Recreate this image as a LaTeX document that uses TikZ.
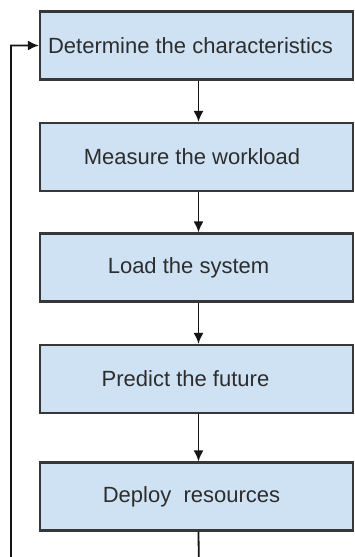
\documentclass[tikz,border=0pt]{standalone}
\usepackage{fontspec}
\setmainfont{Liberation Sans}
\usetikzlibrary{arrows.meta,calc}
\definecolor{boxfill}{RGB}{207,226,243}
\definecolor{boxline}{RGB}{55,55,55}
\definecolor{arrowcol}{RGB}{20,20,20}
\definecolor{textcol}{RGB}{45,45,45}
\tikzset{
  stepbox/.style={draw=boxline, line width=2.2pt, fill=boxfill,
    minimum width=313pt, minimum height=68pt, inner sep=0pt},
  steptext/.style={font=\fontsize{22}{26}\selectfont, text=textcol, inner sep=0pt},
  flow/.style={draw=arrowcol, line width=1.8pt, -{Latex[length=11pt,width=10pt]}}
}
\begin{document}
\begin{tikzpicture}[x=1pt,y=-1pt]
\useasboundingbox (0,0) rectangle (355,557);
\clip (0,0) rectangle (355,557);
\fill[white] (0,0) rectangle (355,557);
\node[stepbox, label={[steptext, xshift=-6pt]center:Determine the characteristics}] (b1) at (196.5,45.5) {};
\node[stepbox, label={[steptext, xshift=-4.5pt]center:Measure the workload}] (b2) at (196.5,157) {};
\node[stepbox, label={[steptext, xshift=-8pt]center:Load the system}] (b3) at (196.5,267.5) {};
\node[stepbox, label={[steptext, xshift=-11pt]center:Predict the future}] (b4) at (196.5,379) {};
\node[stepbox, label={[steptext, xshift=-5pt]center:Deploy\ \ resources}] (b5) at (196.5,496.5) {};
\coordinate (c1) at (199,580);
\coordinate (c2) at (11,580);
\coordinate (c3) at (11,45.5);
\draw[flow] ($(b1.south)+(2,0)$) -- ($(b2.north)+(2,0)$);
\draw[flow] ($(b2.south)+(2,0)$) -- ($(b3.north)+(2,0)$);
\draw[flow] ($(b3.south)+(2,0)$) -- ($(b4.north)+(2,0)$);
\draw[flow] ($(b4.south)+(2,0)$) -- ($(b5.north)+(2,0)$);
\draw[flow] ($(b5.south)+(2,0)$) -- (c1) -- (c2) -- (c3) -- (b1.west);
\end{tikzpicture}
\end{document}
